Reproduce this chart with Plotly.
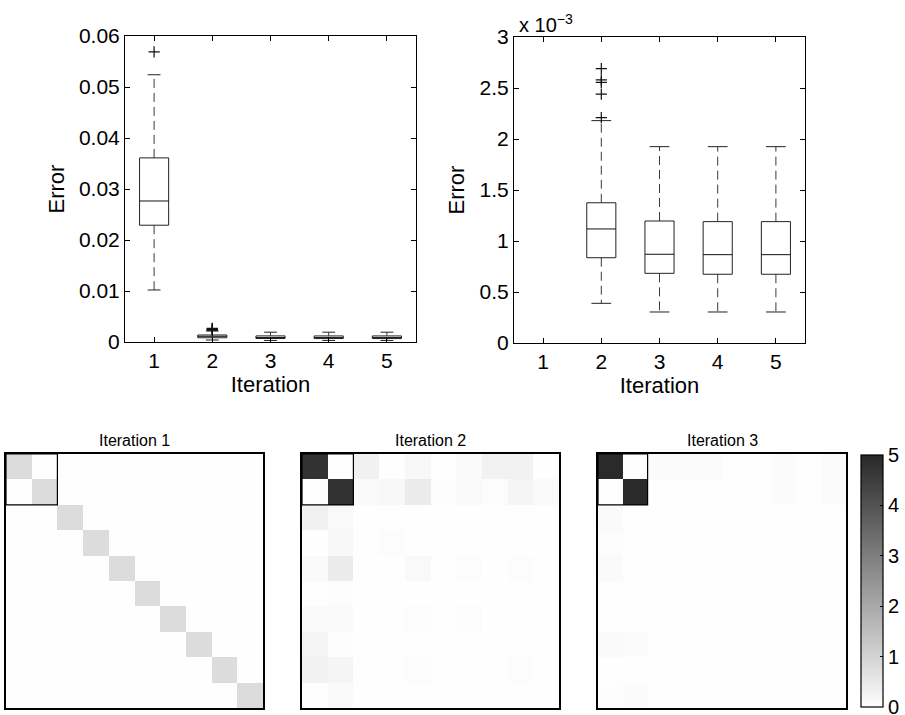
import plotly.graph_objects as go

# ---------------- data ----------------
iterations = [1, 2, 3, 4, 5]
lower_whisker = [0.0102, 0.000389, 0.000304, 0.000304, 0.000304]
q1 = [0.0229, 0.000836, 0.000683, 0.000674, 0.000674]
median = [0.02765, 0.001118, 0.000870, 0.000866, 0.000866]
q3 = [0.0361, 0.001375, 0.001196, 0.001190, 0.001190]
upper_whisker = [0.0524, 0.002180, 0.001925, 0.001925, 0.001925]
outliers = [[0.0569], [0.00221, 0.00244, 0.002555, 0.00258, 0.00269], [], [], []]

left_yticks = [0, 0.01, 0.02, 0.03, 0.04, 0.05, 0.06]
right_yticks = [0, 0.0005, 0.001, 0.0015, 0.002, 0.0025, 0.003]
right_yticktext = ["0", "0.5", "1", "1.5", "2", "2.5", "3"]

heat_titles = ["Iteration 1", "Iteration 2", "Iteration 3"]
block_size = 2

heat_iter1 = [[0.8 if r == c else 0 for c in range(10)] for r in range(10)]
heat_iter2 = [
    [4.76, 0, 0.30, 0, 0.15, 0, 0.10, 0.28, 0.28, 0],
    [0, 4.76, 0.10, 0.15, 0.45, 0.05, 0.10, 0.05, 0.20, 0.10],
    [0.30, 0.12, 0, 0, 0, 0, 0, 0, 0, 0],
    [0, 0.15, 0, 0.05, 0, 0, 0, 0, 0, 0],
    [0.10, 0.45, 0, 0, 0.12, 0, 0.05, 0, 0.05, 0],
    [0, 0.05, 0, 0, 0, 0, 0, 0, 0, 0],
    [0.10, 0.10, 0, 0, 0.05, 0, 0.05, 0, 0, 0],
    [0.22, 0.04, 0, 0, 0, 0, 0, 0, 0, 0],
    [0.28, 0.20, 0, 0, 0.05, 0, 0, 0, 0.05, 0],
    [0, 0.10, 0, 0, 0, 0, 0, 0, 0, 0],
]
heat_iter3 = [
    [4.95, 0, 0.08, 0.06, 0.08, 0, 0, 0.08, 0, 0.07],
    [0, 4.95, 0, 0, 0, 0, 0, 0.07, 0, 0.08],
    [0.10, 0, 0, 0, 0, 0, 0, 0, 0, 0],
    [0.04, 0, 0, 0, 0, 0, 0, 0, 0, 0],
    [0.10, 0, 0, 0, 0, 0, 0, 0, 0, 0],
    [0, 0, 0, 0, 0, 0, 0, 0, 0, 0],
    [0, 0, 0, 0, 0, 0, 0, 0, 0, 0],
    [0.10, 0.08, 0, 0, 0, 0, 0, 0, 0, 0],
    [0, 0, 0, 0, 0, 0, 0, 0, 0, 0],
    [0.03, 0.08, 0, 0, 0, 0, 0, 0, 0, 0],
]
colorbar_ticks = [0, 1, 2, 3, 4, 5]

# ---------------- layout helpers ----------------
W, H = 905, 715
FONT = "Liberation Sans, Arial, Helvetica, sans-serif"


def px_x(a, b):
    return [a / W, b / W]


def px_y(top, bottom):
    return [1 - bottom / H, 1 - top / H]


fig = go.Figure()


def add_boxes(xa, ya, half_w, cap_w):
    bx, by, mx, my, wx, wy, cx, cy, ox, oy = [], [], [], [], [], [], [], [], [], []
    for i, it in enumerate(iterations):
        bx += [it - half_w, it + half_w, it + half_w, it - half_w, it - half_w, None]
        by += [q1[i], q1[i], q3[i], q3[i], q1[i], None]
        mx += [it - half_w, it + half_w, None]
        my += [median[i], median[i], None]
        wx += [it, it, None, it, it, None]
        wy += [q3[i], upper_whisker[i], None, q1[i], lower_whisker[i], None]
        cx += [it - cap_w, it + cap_w, None, it - cap_w, it + cap_w, None]
        cy += [upper_whisker[i], upper_whisker[i], None, lower_whisker[i], lower_whisker[i], None]
        for o in outliers[i]:
            ox.append(it)
            oy.append(o)
    common = dict(xaxis=xa, yaxis=ya, showlegend=False, hoverinfo="skip")
    fig.add_trace(go.Scatter(x=wx, y=wy, mode="lines",
                             line=dict(color="#3a3a3a", width=1, dash="9px,5px"), **common))
    fig.add_trace(go.Scatter(x=cx, y=cy, mode="lines",
                             line=dict(color="#222", width=1), **common))
    fig.add_trace(go.Scatter(x=bx, y=by, mode="lines",
                             line=dict(color="#222", width=1), **common))
    fig.add_trace(go.Scatter(x=mx, y=my, mode="lines",
                             line=dict(color="#111", width=1), **common))
    fig.add_trace(go.Scatter(x=ox, y=oy, mode="markers",
                             marker=dict(symbol="cross-thin", size=8,
                                         line=dict(color="#111", width=1.2)), **common))


add_boxes("x", "y", 0.25, 0.11)
add_boxes("x2", "y2", 0.25, 0.17)

colorscale = [[0, "rgb(254,254,254)"], [1, "rgb(40,40,40)"]]
heat_data = [heat_iter1, heat_iter2, heat_iter3]
for k, z in enumerate(heat_data):
    n = k + 3
    fig.add_trace(go.Heatmap(
        z=z, xaxis=f"x{n}", yaxis=f"y{n}", zmin=0, zmax=5,
        colorscale=colorscale, showscale=(k == 2), hoverinfo="skip",
        colorbar=dict(x=861 / W, xanchor="left", y=1 - 581 / H, yanchor="middle",
                      len=252, lenmode="pixels", thickness=22, xpad=0, ypad=0,
                      outlinewidth=1.2, outlinecolor="black",
                      tickvals=colorbar_ticks, ticktext=[str(t) for t in colorbar_ticks],
                      ticks="inside", ticklen=3, tickcolor="black",
                      ticklabeloverflow="allow",
                      tickfont=dict(family=FONT, size=20, color="black")),
    ))

box_axis = dict(showline=True, linecolor="black", linewidth=1, mirror="allticks",
                ticks="inside", ticklen=5, tickcolor="black", showgrid=False,
                zeroline=False, automargin=False,
                tickfont=dict(family=FONT, size=21, color="black"))

layout = dict(
    width=W, height=H, margin=dict(l=0, r=0, t=0, b=0),
    paper_bgcolor="white", plot_bgcolor="white",
    font=dict(family=FONT, color="black"),
    xaxis=dict(box_axis, domain=px_x(125, 416), anchor="y", range=[0.5, 5.5], tickvals=iterations,
               title=dict(text="Iteration", font=dict(size=22), standoff=4)),
    yaxis=dict(box_axis, domain=px_y(36, 342), anchor="x", range=[0, 0.06], tickvals=left_yticks,
               ticktext=[str(v) for v in left_yticks],
               title=dict(text="Error", font=dict(size=22), standoff=8)),
    xaxis2=dict(box_axis, domain=px_x(514, 805), anchor="y2", range=[0.5, 5.5], tickvals=iterations,
                title=dict(text="Iteration", font=dict(size=22), standoff=4)),
    yaxis2=dict(box_axis, domain=px_y(37, 343), anchor="x2", range=[0, 0.003], tickvals=right_yticks,
                ticktext=right_yticktext,
                title=dict(text="Error", font=dict(size=22), standoff=8)),
)

heat_x_px = [(6, 263), (302, 559), (598, 846)]
heat_axis = dict(showline=True, linecolor="black", linewidth=1.5, mirror=True,
                 ticks="", showticklabels=False, showgrid=False, zeroline=False,
                 automargin=False)
shapes = []
annotations = []
for k in range(3):
    n = k + 3
    layout[f"xaxis{n}"] = dict(heat_axis, domain=px_x(*heat_x_px[k]), anchor=f"y{n}",
                               range=[-0.5, 9.5])
    layout[f"yaxis{n}"] = dict(heat_axis, domain=px_y(454, 708), anchor=f"x{n}",
                               range=[9.5, -0.5])
    shapes.append(dict(type="rect", xref=f"x{n}", yref=f"y{n}",
                       x0=-0.5, x1=block_size - 0.5, y0=-0.5, y1=block_size - 0.5,
                       line=dict(color="black", width=1.2)))
    annotations.append(dict(text=heat_titles[k], xref="paper", yref="paper",
                            x=(heat_x_px[k][0] + heat_x_px[k][1]) / 2 / W,
                            y=1 - 440 / H, xanchor="center", yanchor="middle",
                            showarrow=False, font=dict(family=FONT, size=16)))

annotations.append(dict(text="x 10<sup>−3</sup>", xref="paper", yref="paper",
                        x=517 / W, y=1 - 24 / H, xanchor="left", yanchor="middle",
                        showarrow=False, font=dict(family=FONT, size=20)))

layout["shapes"] = shapes
layout["annotations"] = annotations
fig.update_layout(layout)

fig.write_html("out.html", config={"displayModeBar": False},
               post_script="document.body.style.margin='0px';")
